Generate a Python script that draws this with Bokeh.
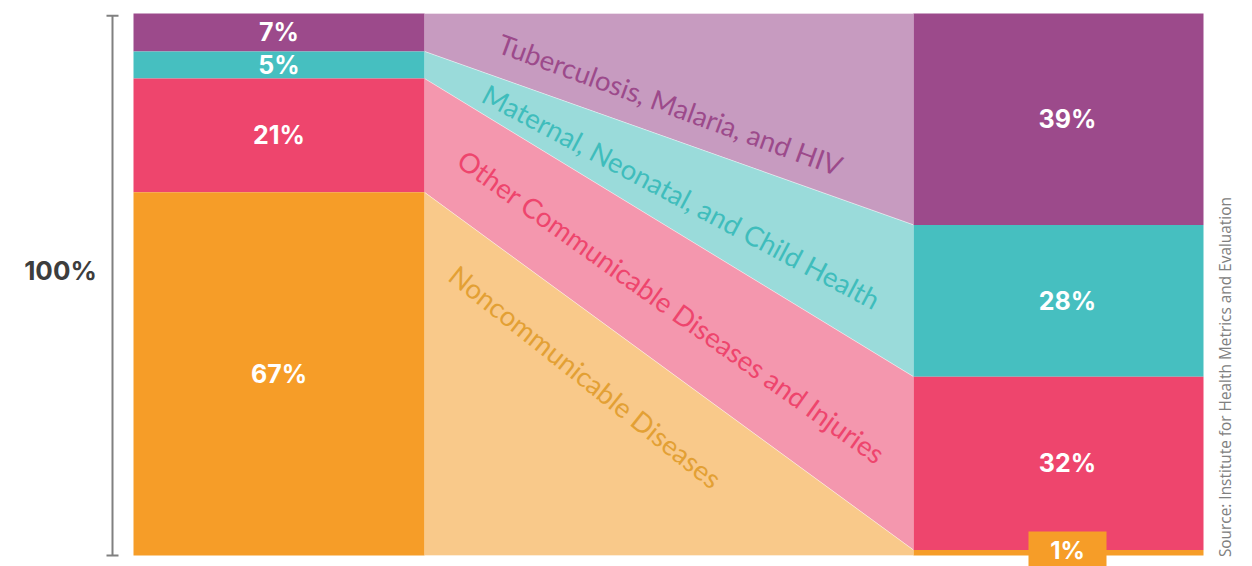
from bokeh.plotting import figure
from bokeh.models import Range1d
from bokeh.core.properties import value
from bokeh.embed import file_html
from bokeh.resources import INLINE

# ---- data ----
categories = ["Tuberculosis, Malaria, and HIV",
              "Maternal, Neonatal, and Child Health",
              "Other Communicable Diseases and Injuries",
              "Noncommunicable Diseases"]
left_share = [7, 5, 21, 67]     # left column shares (%)
right_share = [39, 28, 32, 1]   # right column shares (%)
left_labels = ["7%", "5%", "21%", "67%"]
right_labels = ["39%", "28%", "32%", "1%"]
axis_label = "100%"
source_text = "Source: Institute for Health Metrics and Evaluation"

# ---- styles ----
dark = ["#9C4A8B", "#46BFC0", "#EE456D", "#F69D28"]
light = ["#C79BC0", "#9ADBDA", "#F497AE", "#F9C98A"]
label_col = ["#9C4A8B", "#3FBDBC", "#EE456D", "#E3A034"]
label_angle = [-20, -28, -35.5, -38.5]
label_pos = [(670, 83.2), (681, 66.2), (671, 45.9), (585, 33.0)]

L0, L1 = 133, 424     # left bar x extent
R0, R1 = 913, 1203    # right bar x extent
RC = 1067             # right label centre

def stack(shares):
    tops, bots = [], []
    cum = 100.0
    for s in shares:
        tops.append(cum)
        bots.append(cum - s)
        cum -= s
    return tops, bots

lt, lb = stack(left_share)
rt, rb = stack(right_share)

p = figure(width=1252, height=566, x_range=Range1d(0, 1252),
           y_range=Range1d(-2.03, 102.4), output_backend="svg",
           toolbar_location=None, min_border=0,
           x_axis_type=None, y_axis_type=None)
p.grid.visible = False
p.outline_line_color = None
p.background_fill_color = "white"
p.border_fill_color = "white"

# middle flows
xs = [[L1, R0, R0, L1] for _ in categories]
ys = [[lt[i], rt[i], rb[i], lb[i]] for i in range(len(categories))]
p.patches(xs, ys, fill_color=light, line_color="#FFFFFF", line_alpha=0.35, line_width=1)

# bars
p.quad(left=L0, right=L1, top=lt, bottom=lb, fill_color=dark, line_color=None)
p.quad(left=R0, right=R1, top=rt, bottom=rb, fill_color=dark, line_color=None)

# bar labels
pct_font = value("Inter")
p.text(x=[(L0 + L1) / 2] * 4, y=[(a + b) / 2 for a, b in zip(lt, lb)], text=left_labels,
       text_color="white", text_font=pct_font, text_font_style="bold",
       text_font_size="25px", text_align="center", text_baseline="middle")

big = [i for i, s in enumerate(right_share) if s >= 3]
small = [i for i, s in enumerate(right_share) if s < 3]
p.text(x=[RC] * len(big), y=[(rt[i] + rb[i]) / 2 for i in big],
       text=[right_labels[i] for i in big],
       text_color="white", text_font=pct_font, text_font_style="bold",
       text_font_size="25px", text_align="center", text_baseline="middle")
for i in small:
    p.quad(left=RC - 39, right=RC + 39, top=4.43, bottom=-2.1, fill_color=dark[i], line_color=None)
    p.text(x=[RC], y=[1.0], text=[right_labels[i]], text_color="white",
           text_font=pct_font, text_font_style="bold", text_font_size="24px",
           text_align="center", text_baseline="middle")

# category labels
for i, c in enumerate(categories):
    p.text(x=[label_pos[i][0]], y=[label_pos[i][1]], text=[c], angle=label_angle[i],
           angle_units="deg", text_color=label_col[i], text_font=value("Lato"),
           text_font_size="27.5px", text_align="center", text_baseline="middle")

# bracket axis
p.segment(x0=[112], y0=[0], x1=[112], y1=[99.6], line_color="#808080", line_width=2)
p.segment(x0=[106, 106], y0=[0, 99.6], x1=[118, 118], y1=[0, 99.6], line_color="#808080", line_width=2)
p.text(x=[60], y=[52.5], text=[axis_label], text_color="#3D3D3D", text_font=pct_font,
       text_font_style="bold", text_font_size="26px", text_align="center", text_baseline="middle")

# source
p.text(x=[1225], y=[-0.3], text=[source_text], angle=90, angle_units="deg",
       text_color="#808080", text_font=value("Open Sans"), text_font_size="15.4px",
       text_align="left", text_baseline="middle")

open("out.html", "w").write(file_html(p, INLINE))
